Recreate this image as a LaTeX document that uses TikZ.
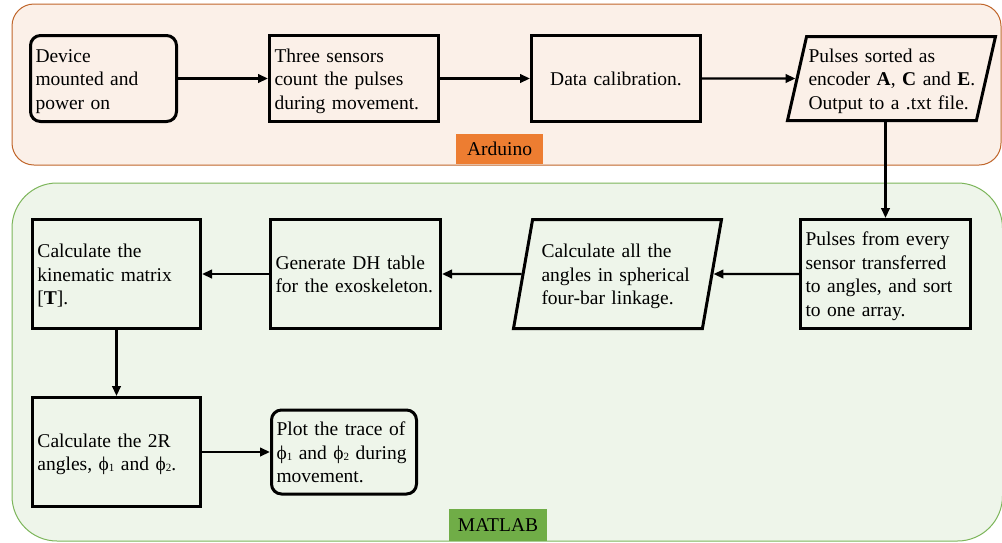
\documentclass[tikz,border=0pt]{standalone}
\usepackage{fontspec}
\setmainfont{Liberation Serif}
\usepackage{xcolor}
\usetikzlibrary{arrows.meta,shapes.geometric,calc}
\definecolor{ardfill}{HTML}{FBF0E8}
\definecolor{ardline}{HTML}{C0652A}
\definecolor{ardtag}{HTML}{ED7D31}
\definecolor{matfill}{HTML}{EEF5EA}
\definecolor{matline}{HTML}{7CB55A}
\definecolor{mattag}{HTML}{70AD47}
\newcommand{\phisub}[1]{ϕ\raisebox{-1pt}{\fontsize{11}{11}\selectfont#1}}
\newcommand{\topstrut}{\rule{0pt}{21.5pt}}
\tikzset{
  every node/.style={font=\fontsize{19.5}{23.5}\selectfont},
  process/.style={draw,line width=3pt,inner xsep=5pt,inner ysep=2pt,align=left,
    execute at begin node=\topstrut,execute at end node=\strut},
  startstop/.style={process,rounded corners=10pt},
  io/.style={trapezium,trapezium left angle=76.5,trapezium right angle=103.5,
    trapezium stretches body=true,draw,line width=3pt,inner xsep=1pt,inner ysep=2pt,
    align=left,minimum width=208pt,
    execute at begin node=\topstrut,execute at end node=\strut},
  tag/.style={inner sep=0pt,minimum height=30pt},
  panel/.style={line width=1pt}
}
\tikzstyle{arrow} = [line width=2.3pt,-{Triangle[length=10pt,width=8.5pt]}]

\begin{document}
\begin{tikzpicture}[x=1pt,y=-1pt,line join=miter]
  \useasboundingbox (0,0) rectangle (1002,542);

  % --- Panels ---
  \draw[panel,draw=ardline,fill=ardfill,rounded corners=22pt] (12,4) rectangle (1001,165);
  \draw[panel,draw=matline,fill=matfill,rounded corners=45pt] (12,183) rectangle (1002.5,541);
  \node[tag,fill=ardtag,minimum width=87pt] (ardtag) at (499.5,149) {Arduino};
  \node[tag,fill=mattag,minimum width=98pt,minimum height=32pt] (mattag) at (498,525) {MATLAB};

  % --- Arduino steps ---
  \node[startstop,text width=136pt,minimum height=86pt] (dev) at (103.5,78.5)
    {Device\\mounted and\\power on};
  \node[process,text width=159pt,minimum height=86pt] (sens) at (354,78.5)
    {Three sensors\\count the pulses\\during movement.};
  \node[process,text width=159pt,minimum height=86pt,align=center] (calib) at (616,78.5)
    {Data calibration.};
  \node[io,text width=166pt,minimum height=84pt] (sort) at (891.5,78.5)
    {Pulses sorted as\\\mbox{encoder \textbf{A}, \textbf{C} and \textbf{E}.}\\Output to a .txt file.};

  % --- MATLAB steps ---
  \node[process,text width=160pt,minimum height=109pt] (pulse) at (885.5,274)
    {Pulses from every\\sensor transferred\\to angles, and sort\\to one array.};
  \node[io,text width=152pt,minimum height=109pt] (angle) at (617.5,274)
    {Calculate all the\\angles in spherical\\four-bar linkage.};
  \node[process,text width=160pt,minimum height=109pt] (dh) at (355.5,274)
    {Generate DH table\\for the exoskeleton.};
  \node[process,text width=158pt,minimum height=109pt] (kin) at (116.5,274)
    {Calculate the\\kinematic matrix\\{[}\textbf{T}{]}.};
  \node[process,text width=158pt,minimum height=109pt] (twor) at (116.5,452)
    {Calculate the 2R\\angles, \phisub{1} and \phisub{2}.};
  \node[startstop,text width=135pt,minimum height=84pt] (plot) at (344,452)
    {Plot the trace of\\\phisub{1} and \phisub{2} during\\movement.};

  % --- Flow ---
  \draw[arrow] (dev) -- (sens);
  \draw[arrow] (sens) -- (calib);
  \draw[arrow] (calib) -- (sort.west);
  \draw[arrow] (pulse.north |- sort.south) -- (pulse.north);
  \draw[arrow] (pulse) -- (angle.east);
  \draw[arrow] (angle.west) -- (dh);
  \draw[arrow] (dh) -- (kin);
  \draw[arrow] (kin) -- (twor);
  \draw[arrow] (twor) -- (plot);

\end{tikzpicture}
\end{document}
